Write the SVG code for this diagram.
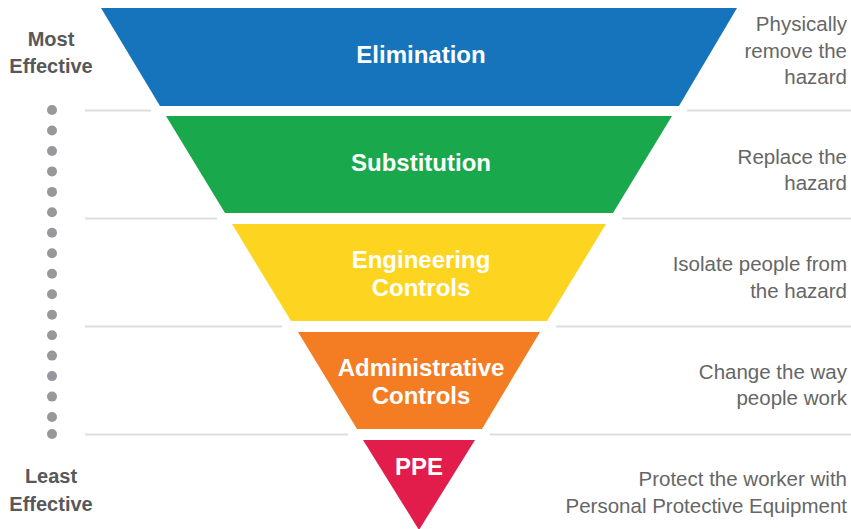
<svg xmlns="http://www.w3.org/2000/svg" width="851" height="529" viewBox="0 0 851 529">
  <style>
    .tier { font-family: "Liberation Sans", Arial, sans-serif; font-weight: bold; font-size: 24px; fill: #ffffff; text-anchor: middle; }
    .desc { font-family: "Liberation Sans", Arial, sans-serif; font-size: 20.5px; fill: #666666; text-anchor: end; }
    .scale { font-family: "Liberation Sans", Arial, sans-serif; font-weight: bold; font-size: 20px; fill: #58585a; text-anchor: middle; }
    .rule { stroke: #dddddd; stroke-width: 2; fill: none; }
    .dot { fill: #98989c; }
  </style>
  <rect width="851" height="529" fill="#ffffff"/>

  <!-- scale labels -->
  <g id="scale">
    <text class="scale" x="51" y="46">Most</text>
    <text class="scale" x="51" y="73">Effective</text>
    <text class="scale" x="51" y="483">Least</text>
    <text class="scale" x="51" y="511">Effective</text>
    <g id="dots">
      <circle class="dot" cx="52" cy="110" r="5"/>
      <circle class="dot" cx="52" cy="130.5" r="5"/>
      <circle class="dot" cx="52" cy="151" r="5"/>
      <circle class="dot" cx="52" cy="171.4" r="5"/>
      <circle class="dot" cx="52" cy="191.9" r="5"/>
      <circle class="dot" cx="52" cy="212.3" r="5"/>
      <circle class="dot" cx="52" cy="232.8" r="5"/>
      <circle class="dot" cx="52" cy="253.3" r="5"/>
      <circle class="dot" cx="52" cy="273.8" r="5"/>
      <circle class="dot" cx="52" cy="294.2" r="5"/>
      <circle class="dot" cx="52" cy="314.7" r="5"/>
      <circle class="dot" cx="52" cy="335.2" r="5"/>
      <circle class="dot" cx="52" cy="355.6" r="5"/>
      <circle class="dot" cx="52" cy="376.1" r="5"/>
      <circle class="dot" cx="52" cy="396.6" r="5"/>
      <circle class="dot" cx="52" cy="417" r="5"/>
      <circle class="dot" cx="52" cy="434" r="5"/>
    </g>
  </g>

  <!-- separator rules between tiers -->
  <g id="rules">
    <path class="rule" d="M85 110.5H151M687 110.5H851"/>
    <path class="rule" d="M85 218.5H217M622 218.5H851"/>
    <path class="rule" d="M85 326.5H282M556 326.5H851"/>
    <path class="rule" d="M85 434.5H348M490 434.5H851"/>
  </g>

  <!-- funnel tiers -->
  <g id="elimination">
    <polygon points="101,8 737,8 679,106 160,106" fill="#1574bb"/>
    <text class="tier" x="421" y="63">Elimination</text>
  </g>
  <g id="substitution">
    <polygon points="166,116 672,116 613,213 225,213" fill="#19a84c"/>
    <text class="tier" x="421" y="171">Substitution</text>
  </g>
  <g id="engineering">
    <polygon points="232,224 606,224 547,321 291,321" fill="#fdd520"/>
    <text class="tier" x="421" y="268">Engineering</text>
    <text class="tier" x="421" y="296">Controls</text>
  </g>
  <g id="administrative">
    <polygon points="298,332 540,332 482,429 357,429" fill="#f47c22"/>
    <text class="tier" x="421" y="376">Administrative</text>
    <text class="tier" x="421" y="404">Controls</text>
  </g>
  <g id="ppe">
    <polygon points="363,440 475,440 419,530" fill="#e21d4b"/>
    <text class="tier" x="419" y="475">PPE</text>
  </g>

  <!-- descriptions -->
  <g id="descriptions">
    <text class="desc" x="847" y="31">Physically</text>
    <text class="desc" x="847" y="58">remove the</text>
    <text class="desc" x="847" y="84">hazard</text>
    <text class="desc" x="847" y="164">Replace the</text>
    <text class="desc" x="847" y="190">hazard</text>
    <text class="desc" x="847" y="271">Isolate people from</text>
    <text class="desc" x="847" y="298">the hazard</text>
    <text class="desc" x="847" y="379">Change the way</text>
    <text class="desc" x="847" y="405">people work</text>
    <text class="desc" x="847" y="486">Protect the worker with</text>
    <text class="desc" x="847" y="513">Personal Protective Equipment</text>
  </g>
</svg>
